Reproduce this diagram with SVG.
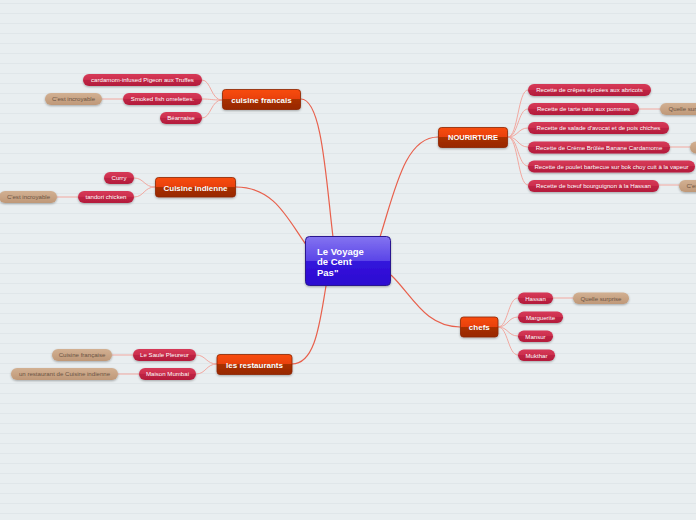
<svg xmlns="http://www.w3.org/2000/svg" width="696" height="520" viewBox="0 0 696 520">
<defs>
<pattern id="lines" x="0" y="0" width="10" height="10" patternUnits="userSpaceOnUse">
<rect width="10" height="10" fill="#e9eef0"/>
<rect y="3" width="10" height="1" fill="#e0e6e9"/>
</pattern>
<linearGradient id="gCenter" x1="0" y1="0" x2="0" y2="1">
<stop offset="0" stop-color="#8474f0"/>
<stop offset="0.5" stop-color="#5a44e8"/>
<stop offset="0.5" stop-color="#3414dc"/>
<stop offset="1" stop-color="#2c0cd0"/>
</linearGradient>
<linearGradient id="gTopic" x1="0" y1="0" x2="0" y2="1">
<stop offset="0" stop-color="#f84c0c"/>
<stop offset="0.5" stop-color="#e84010"/>
<stop offset="0.5" stop-color="#a83000"/>
<stop offset="1" stop-color="#982800"/>
</linearGradient>
<linearGradient id="gSub" x1="0" y1="0" x2="0" y2="1">
<stop offset="0" stop-color="#d63a58"/>
<stop offset="0.5" stop-color="#cc2e4c"/>
<stop offset="0.5" stop-color="#be2444"/>
<stop offset="1" stop-color="#b41c3c"/>
</linearGradient>
<linearGradient id="gTan" x1="0" y1="0" x2="0" y2="1">
<stop offset="0" stop-color="#d2b092"/>
<stop offset="1" stop-color="#bf9878"/>
</linearGradient>
<filter id="sh" x="-10%" y="-20%" width="120%" height="160%">
<feDropShadow dx="0" dy="1" stdDeviation="0.8" flood-color="#000" flood-opacity="0.3"/>
</filter>
</defs>
<style>
.main{fill:none;stroke:#e8604c;stroke-width:1.2}
.sub{fill:none;stroke:#f2a8a0;stroke-width:1}
.center{fill:url(#gCenter);stroke:#2a1890;stroke-width:1;filter:url(#sh)}
.topic{fill:url(#gTopic);stroke:#8c2400;stroke-width:0.8;filter:url(#sh)}
.subt{fill:url(#gSub);filter:url(#sh)}
.tan{fill:url(#gTan);filter:url(#sh)}
.ct{font-family:"Liberation Sans",Arial,sans-serif;font-weight:bold;font-size:9.5px;fill:#fff}
.tt{font-family:"Liberation Sans",Arial,sans-serif;font-weight:bold;font-size:8px;fill:#fff;text-anchor:middle}
.st{font-family:"Liberation Sans",Arial,sans-serif;font-size:6.1px;fill:#fff;text-anchor:middle}
.ft{font-family:"Liberation Sans",Arial,sans-serif;font-size:6.1px;fill:#6b5444;text-anchor:middle}
</style>
<rect width="696" height="520" fill="url(#lines)"/>

<g id="connectors">
<path class="main" d="M301,99 C322,99 326,180 333,237"/>
<path class="main" d="M236,187 C275,187 288,220 307,246"/>
<path class="main" d="M292,364 C316,364 320,320 326,286"/>
<path class="main" d="M380,237 C395,190 405,137 438,137"/>
<path class="main" d="M391,275 C412,295 425,327 460,327"/>

<path class="sub" d="M222,100 C211,100 211,80 202,80"/>
<path class="sub" d="M222,100 C211,100 211,99 202,99"/>
<path class="sub" d="M222,100 C211,100 211,118 202,118"/>
<path class="sub" d="M123,99 L102,99"/>

<path class="sub" d="M155,187 C144,187 144,178 134,178"/>
<path class="sub" d="M155,187 C144,187 144,197 134,197"/>
<path class="sub" d="M78,197 L57,197"/>

<path class="sub" d="M217,364 C206,364 206,355 196,355"/>
<path class="sub" d="M217,364 C206,364 206,374 196,374"/>
<path class="sub" d="M133,355 L112,355"/>
<path class="sub" d="M139,374 L118,374"/>

<path class="sub" d="M508,137 C518,137 518,90 528,90"/>
<path class="sub" d="M508,137 C518,137 518,109 528,109"/>
<path class="sub" d="M508,137 C518,137 518,128 528,128"/>
<path class="sub" d="M508,137 C518,137 518,147 528,147"/>
<path class="sub" d="M508,137 C518,137 518,166 528,166"/>
<path class="sub" d="M508,137 C518,137 518,185 528,185"/>
<path class="sub" d="M639,109 L660,109"/>
<path class="sub" d="M670,147 L690,147"/>
<path class="sub" d="M659,185 L679,185"/>

<path class="sub" d="M498,327 C508,327 508,298 518,298"/>
<path class="sub" d="M498,327 C508,327 508,317 518,317"/>
<path class="sub" d="M498,327 C508,327 508,336 518,336"/>
<path class="sub" d="M498,327 C508,327 508,355 518,355"/>
<path class="sub" d="M553,298 L573,298"/>
</g>

<g id="center">
<rect class="center" x="305.5" y="236.5" width="85" height="49" rx="4"/>
<text class="ct" x="317" y="254.5">Le Voyage</text>
<text class="ct" x="317" y="265">de Cent</text>
<text class="ct" x="317" y="276">Pas"</text>
</g>

<g id="t-francais">
<rect class="topic" x="222.5" y="89.5" width="78" height="20" rx="3"/>
<text class="tt" x="261.5" y="102.5">cuisine francais</text>
</g>
<g id="t-indienne">
<rect class="topic" x="155.5" y="177.5" width="80" height="19.5" rx="3"/>
<text class="tt" x="195.5" y="190.5">Cuisine indienne</text>
</g>
<g id="t-restaurants">
<rect class="topic" x="217" y="354.5" width="75" height="20" rx="3"/>
<text class="tt" x="254.5" y="367.5">les restaurants</text>
</g>
<g id="t-nourirture">
<rect class="topic" x="438.5" y="127.5" width="69" height="20" rx="3"/>
<text class="tt" x="473" y="140.3" style="font-size:7.5px">NOURIRTURE</text>
</g>
<g id="t-chefs">
<rect class="topic" x="460.5" y="317" width="37.5" height="20" rx="3"/>
<text class="tt" x="479.3" y="330">chefs</text>
</g>

<g id="s-pigeon"><rect class="subt" x="83" y="74" width="119" height="12" rx="6"/><text class="st" x="142.5" y="82.2">cardamom-infused Pigeon aux Truffes</text></g>
<g id="s-smoked"><rect class="subt" x="123" y="93" width="79" height="12" rx="6"/><text class="st" x="162.5" y="101.2">Smoked fish omelettes.</text></g>
<g id="s-bearnaise"><rect class="subt" x="160" y="112" width="42" height="12" rx="6"/><text class="st" x="181" y="120.2">Béarnaise</text></g>
<g id="f-incroyable1"><rect class="tan" x="45" y="93" width="57" height="12" rx="6"/><text class="ft" x="73.5" y="101.2">C'est incroyable</text></g>

<g id="s-curry"><rect class="subt" x="104" y="172" width="30" height="12" rx="6"/><text class="st" x="119" y="180.2">Curry</text></g>
<g id="s-tandori"><rect class="subt" x="78" y="191" width="56" height="12" rx="6"/><text class="st" x="106" y="199.2">tandori chicken</text></g>
<g id="f-incroyable2"><rect class="tan" x="-1" y="191" width="58" height="12" rx="6"/><text class="ft" x="28.5" y="199.2">C'est incroyable</text></g>

<g id="s-saule"><rect class="subt" x="133" y="349" width="63" height="12" rx="6"/><text class="st" x="164.5" y="357.2">Le Saule Pleureur</text></g>
<g id="s-mumbai"><rect class="subt" x="139" y="368" width="57" height="12" rx="6"/><text class="st" x="167.5" y="376.2">Maison Mumbai</text></g>
<g id="f-francaise"><rect class="tan" x="52" y="349" width="60" height="12" rx="6"/><text class="ft" x="82" y="357.2">Cuisine française</text></g>
<g id="f-indienne"><rect class="tan" x="11" y="368" width="107" height="12" rx="6"/><text class="ft" x="64.5" y="376.2">un restaurant de Cuisine indienne</text></g>

<g id="s-crepes"><rect class="subt" x="528" y="84" width="123" height="12" rx="6"/><text class="st" x="589.5" y="92.2">Recette de crêpes épicées aux abricots</text></g>
<g id="s-tarte"><rect class="subt" x="528" y="103" width="111" height="12" rx="6"/><text class="st" x="583.5" y="111.2">Recette de tarte tatin aux pommes</text></g>
<g id="f-quelle1"><rect class="tan" x="660" y="103" width="58" height="12" rx="6"/><text class="ft" x="689" y="111.2">Quelle surprise</text></g>
<g id="s-salade"><rect class="subt" x="528" y="122" width="141" height="12" rx="6"/><text class="st" x="598.5" y="130.2">Recette de salade d'avocat et de pois chiches</text></g>
<g id="s-creme"><rect class="subt" x="528" y="141.5" width="142" height="12" rx="6"/><text class="st" x="599" y="149.7">Recette de Crème Brûlée Banane Cardamome</text></g>
<g id="f-tan2"><rect class="tan" x="690" y="141.5" width="58" height="12" rx="6"/></g>
<g id="s-poulet"><rect class="subt" x="528" y="160.5" width="167" height="12" rx="6"/><text class="st" x="611.5" y="168.7">Recette de poulet barbecue sur bok choy cuit à la vapeur</text></g>
<g id="s-boeuf"><rect class="subt" x="528" y="180" width="131" height="12" rx="6"/><text class="st" x="593.5" y="188.2">Recette de bœuf bourguignon à la Hassan</text></g>
<g id="f-cest"><rect class="tan" x="679" y="180" width="58" height="12" rx="6"/><text class="ft" x="708" y="188.2">C'est incroyable</text></g>

<g id="s-hassan"><rect class="subt" x="518" y="292.5" width="35" height="11.5" rx="5.7"/><text class="st" x="535.5" y="300.5">Hassan</text></g>
<g id="f-quelle2"><rect class="tan" x="573" y="292.5" width="56" height="11.5" rx="5.7"/><text class="ft" x="601" y="300.5">Quelle surprise</text></g>
<g id="s-marguerite"><rect class="subt" x="518" y="311.5" width="45" height="11.5" rx="5.7"/><text class="st" x="540.5" y="319.5">Marguerite</text></g>
<g id="s-mansur"><rect class="subt" x="518" y="330.5" width="35" height="11.5" rx="5.7"/><text class="st" x="535.5" y="338.5">Mansur</text></g>
<g id="s-mukthar"><rect class="subt" x="518" y="349.5" width="37" height="11.5" rx="5.7"/><text class="st" x="536.5" y="357.5">Mukthar</text></g>
</svg>
